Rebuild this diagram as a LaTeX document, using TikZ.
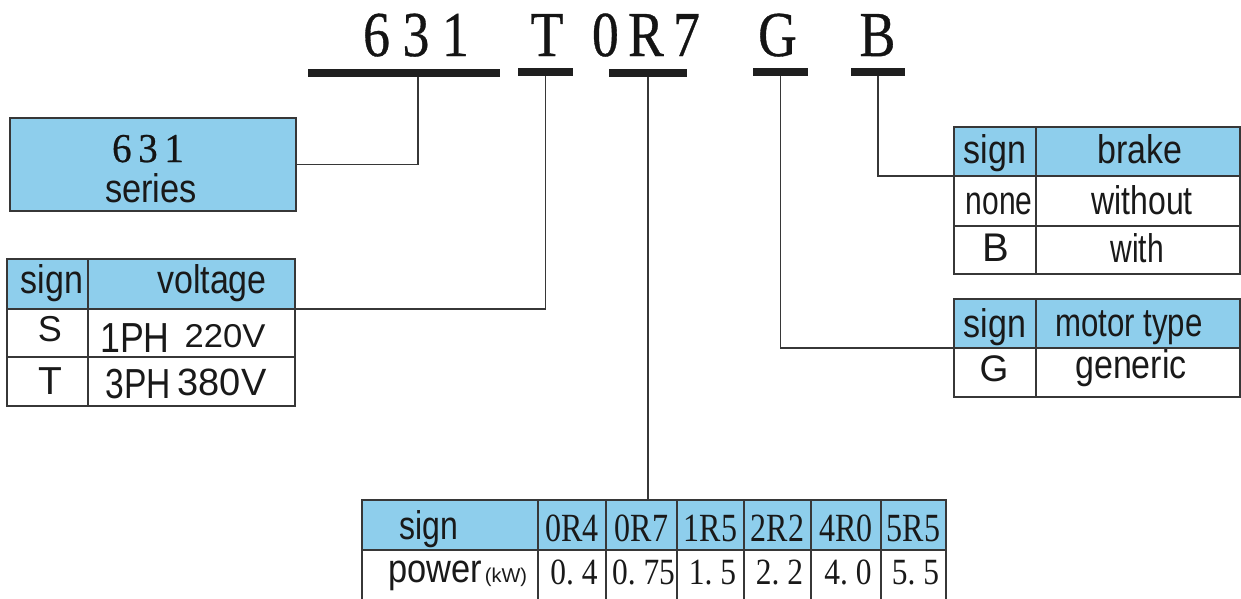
\documentclass[tikz,border=0pt]{standalone}
\usepackage{fontspec}
\setmainfont{Liberation Serif}
\setsansfont{Liberation Sans}
\newfontfamily\hvserif[FakeBold=0.6]{Liberation Serif}
\usepackage{graphicx}
\definecolor{hb}{RGB}{142,206,236}
\definecolor{lc}{RGB}{55,55,55}
\newcommand\sx[3]{\scalebox{#1}[1]{\fontsize{#2}{#2}\selectfont #3}}
\begin{document}
\begin{tikzpicture}[x=1pt,y=-1pt,
  cell/.style={draw=lc,line width=1.3pt,inner sep=0pt,outer sep=0pt},
  hcell/.style={cell,fill=hb},
  bar/.style={fill=black!88,draw=none,inner sep=0pt,outer sep=0pt,minimum height=8pt},
  wire/.style={draw=lc,line width=1.2pt},
  t/.style={anchor=base,inner sep=0pt,font=\sffamily,text=black!90},
  s/.style={anchor=base,inner sep=0pt,font=\rmfamily,text=black!90},
  hs/.style={anchor=base,inner sep=0pt,font=\hvserif,text=black!92}]
\useasboundingbox (0,0) rectangle (1241,598);
% code letters
\node[hs] (c631) at (416,56) {\sx{0.84}{64}{6\hspace{15pt}3\hspace{15pt}1}};
\node[hs] (cT) at (547,56) {\sx{0.84}{64}{T}};
\node[hs] (c0R7) at (646,56) {\sx{0.84}{64}{0\hspace{11pt}R\hspace{11pt}7}};
\node[hs] (cG) at (777.5,56) {\sx{0.84}{64}{G}};
\node[hs] (cB) at (877.5,56) {\sx{0.84}{64}{B}};
% bars
\node[bar,minimum width=192pt] (b631) at (404,73) {};
\node[bar,minimum width=55pt] (bT) at (545.5,72) {};
\node[bar,minimum width=78pt] (b0R7) at (648,73) {};
\node[bar,minimum width=55pt] (bG) at (780.5,72) {};
\node[bar,minimum width=54pt] (bB) at (878,71.5) {};
% 631 box
\node[hcell,minimum width=286pt,minimum height=93pt] (box) at (153,164.5) {};
\node[hs] (t631) at (148,162) {\sx{0.95}{41}{6\hspace{7pt}3\hspace{7pt}1}};
\node[t] (tser) at (151,202) {\sx{0.86}{40}{series}};
% voltage table
\node[hcell,minimum width=81pt,minimum height=50pt] (vh1) at (47.5,284) {};
\node[hcell,minimum width=207pt,minimum height=50pt] (vh2) at (191.5,284) {};
\node[cell,minimum width=81pt,minimum height=48pt] (v11) at (47.5,333) {};
\node[cell,minimum width=207pt,minimum height=48pt] (v12) at (191.5,333) {};
\node[cell,minimum width=81pt,minimum height=49pt] (v21) at (47.5,381.5) {};
\node[cell,minimum width=207pt,minimum height=49pt] (v22) at (191.5,381.5) {};
\node[t] (tvs) at (52,293) {\sx{0.85}{40}{sign}};
\node[t] (tvv) at (212,293) {\sx{0.85}{40}{voltage}};
\node[t] (tS) at (50,341) {\sx{1}{36}{S}};
\node[t] (t1ph) at (135,352) {\sx{0.85}{42}{1PH}};
\node[t] (t220) at (225,347) {\sx{1.05}{33}{220V}};
\node[t] (tT) at (50,394) {\sx{1}{39}{T}};
\node[t] (t3ph) at (138,398) {\sx{0.8}{42}{3PH}};
\node[t] (t380) at (222,395) {\sx{1}{38}{380V}};
% brake table
\node[hcell,minimum width=82pt,minimum height=49pt] (bh1) at (995,151.5) {};
\node[hcell,minimum width=204pt,minimum height=49pt] (bh2) at (1138,151.5) {};
\node[cell,minimum width=82pt,minimum height=50pt] (b11) at (995,201) {};
\node[cell,minimum width=204pt,minimum height=50pt] (b12) at (1138,201) {};
\node[cell,minimum width=82pt,minimum height=48pt] (b21) at (995,250) {};
\node[cell,minimum width=204pt,minimum height=48pt] (b22) at (1138,250) {};
\node[t] (tbs) at (995,163) {\sx{0.85}{40}{sign}};
\node[t] (tbb) at (1140,163) {\sx{0.85}{40}{brake}};
\node[t] (tbn) at (999,214) {\sx{0.75}{40}{none}};
\node[t] (tbw) at (1142,214) {\sx{0.8}{40}{without}};
\node[t] (tbB) at (996,261) {\sx{1}{40}{B}};
\node[t] (tbwi) at (1137,262) {\sx{0.75}{40}{with}};
% motor table
\node[hcell,minimum width=82pt,minimum height=49pt] (mh1) at (995,323.5) {};
\node[hcell,minimum width=204pt,minimum height=49pt] (mh2) at (1138,323.5) {};
\node[cell,minimum width=82pt,minimum height=49pt] (m11) at (995,372.5) {};
\node[cell,minimum width=204pt,minimum height=49pt] (m12) at (1138,372.5) {};
\node[t] (tms) at (995,337) {\sx{0.85}{40}{sign}};
\node[t] (tmm) at (1129,336) {\sx{0.78}{40}{motor type}};
\node[t] (tmG) at (994,381) {\sx{1}{37}{G}};
\node[t] (tmg) at (1131,378) {\sx{0.85}{40}{generic}};
% power table
\node[hcell,minimum width=176pt,minimum height=50pt] (ph0) at (450,525) {};
\node[cell,minimum width=176pt,minimum height=53pt] (pr0) at (450,576.5) {};
\foreach \c/\w/\k/\v [count=\i] in {572/68/0R4/0.\ 4, 641.5/71/0R7/0.\ 75, 710.5/67/1R5/1.\ 5, 777.5/67/2R2/2.\ 2, 846/70/4R0/4.\ 0, 913.5/65/5R5/5.\ 5}{
  \node[hcell,minimum width=\w pt,minimum height=50pt] (ph\i) at (\c,525) {};
  \node[cell,minimum width=\w pt,minimum height=53pt] (pr\i) at (\c,576.5) {};
  \node[s] (tk\i) at (\c,541) {\sx{0.8}{40}{\k}};
  \node[s] (tv\i) at (\c+2,584) {\sx{0.85}{37}{\v}};
}
\node[t] (tps) at (429,539) {\sx{0.8}{40}{sign}};
\node[t,anchor=base west] (tpp) at (388,582) {\sx{0.86}{40}{power}\hspace{3pt}\fontsize{20}{20}\selectfont (kW)};
% connectors
\draw[wire] (box.east) -| ([xshift=14pt]b631.south);
\draw[wire] (vh2.south east) -| (bT.south);
\draw[wire] (b0R7.south) -- (b0R7.south |- ph2.north);
\draw[wire] (bG.south) |- (mh1.south west);
\draw[wire] (bB.south) |- (bh1.south west);
\end{tikzpicture}
\end{document}
